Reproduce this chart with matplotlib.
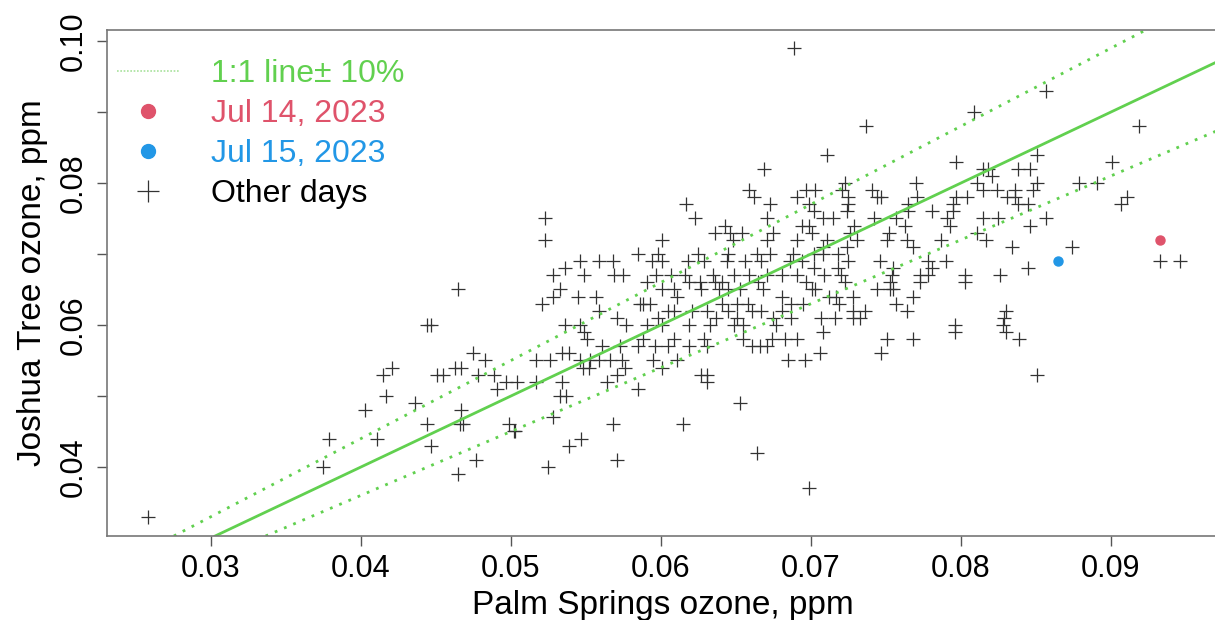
import matplotlib
matplotlib.use("Agg")
import matplotlib.pyplot as plt
from matplotlib.lines import Line2D

plt.rcParams['font.family'] = ['Liberation Sans', 'DejaVu Sans']

# ozone, ppm: Palm Springs (x) vs Joshua Tree (y), all other days
other_ps = [
    # low end
    0.0258, 0.0375, 0.0379, 0.0403, 0.0411, 0.0417, 0.0415, 0.0421,
    0.0523, 0.0523, 0.0465, 0.0444, 0.0447, 0.0546, 0.0559, 0.0536, 0.0528, 0.0549,
    0.0533, 0.0528, 0.0545, 0.0557, 0.0521, 0.0559, 0.0536, 0.0546,
    0.0549, 0.0551, 0.0561, 0.0475, 0.0483, 0.0451, 0.0455, 0.0463, 0.0467, 0.0478,
    0.0489, 0.0497, 0.0504, 0.0491, 0.0517, 0.0526, 0.0534, 0.0539, 0.0517, 0.0534,
    0.0533, 0.0537, 0.0546, 0.0553, 0.0559, 0.0566, 0.0548, 0.0552, 0.0564, 0.0436,
    0.0467, 0.0444, 0.0466, 0.0468, 0.0447, 0.0499, 0.0503, 0.0502, 0.0528, 0.0547,
    0.0539, 0.0477, 0.0465, 0.0525,
    # upper middle
    0.0669, 0.0711, 0.0659, 0.0662, 0.0691, 0.0697, 0.0703, 0.0699, 0.0702, 0.0617,
    0.0623, 0.0673, 0.0671, 0.0675, 0.0643, 0.0636, 0.0646, 0.0654, 0.0694, 0.0699,
    0.0701, 0.0708, 0.0708, 0.0701,
    # dense core
    0.0601, 0.0648, 0.0671, 0.0691,
    0.0585, 0.0598, 0.0625, 0.0645, 0.0664, 0.0673, 0.0688,
    0.0568, 0.0594, 0.0601, 0.0618, 0.0629, 0.0644, 0.0656, 0.0667, 0.0686, 0.0694,
    0.0569, 0.0575, 0.0597, 0.0607, 0.0616, 0.0635, 0.0649, 0.0659, 0.0671, 0.0681, 0.0691,
    0.0591, 0.0619, 0.0626, 0.0636, 0.0641, 0.0665, 0.0697,
    0.0601, 0.0609, 0.0627, 0.0639, 0.0645, 0.0653, 0.0668,
    0.0611, 0.0681,
    0.0586, 0.0588, 0.0593, 0.0641, 0.0651, 0.0658, 0.0687, 0.0695,
    0.0605, 0.0609, 0.0621, 0.0631, 0.0645, 0.0661, 0.0667, 0.0681,
    0.0571, 0.0598, 0.0637, 0.0651, 0.0675, 0.0687,
    0.0577, 0.0591, 0.0601, 0.0619, 0.0633, 0.0649, 0.0655, 0.0677,
    0.0588, 0.0609, 0.0629, 0.0655, 0.0674, 0.0683, 0.0691,
    0.0573, 0.0585, 0.0596, 0.0605, 0.0619, 0.0631, 0.0661, 0.0666, 0.0671,
    0.0574, 0.0595, 0.0611, 0.0685, 0.0696,
    # upper right
    0.0797, 0.0815, 0.0818, 0.0851, 0.0838, 0.0846, 0.0851, 0.0848, 0.0723, 0.0770,
    0.0741, 0.0744, 0.0747, 0.0721, 0.0725, 0.0725, 0.0724, 0.0715, 0.0771, 0.0765,
    0.0765, 0.0797, 0.0795, 0.0795, 0.0804, 0.0811, 0.0815, 0.0821, 0.0824, 0.0831,
    0.0838, 0.0845, 0.0836, 0.0836, 0.0781, 0.0791, 0.0793, 0.0815, 0.0825, 0.0811,
    0.0817, 0.0846, 0.0857, 0.0834, 0.0845, 0.0826, 0.0803, 0.0803, 0.0790, 0.0778,
    0.0781, 0.0773, 0.0778, 0.0773, 0.0764, 0.0768, 0.0755, 0.0757, 0.0753, 0.0753,
    0.0744, 0.0755, 0.0754, 0.0746, 0.0729, 0.0726, 0.0731, 0.0742, 0.0752, 0.0751,
    0.0757, 0.0763, 0.0764, 0.0768, 0.0787, 0.0711, 0.0708, 0.0702, 0.0718, 0.0724,
    0.0725, 0.0702, 0.0709, 0.0720, 0.0723, 0.0718, 0.0703, 0.0712, 0.0717, 0.0719,
    0.0728, 0.0736, 0.0728, 0.0707, 0.0716, 0.0728, 0.0733, 0.0796, 0.0830, 0.0829,
    0.0828,
    # lower middle
    0.0708, 0.0706, 0.0627, 0.0631, 0.0631, 0.0601, 0.0585, 0.0576, 0.0571, 0.0568,
    0.0615, 0.0571, 0.0653, 0.0664, 0.0699,
    0.0751, 0.0768, 0.0747, 0.0839, 0.0851, 0.0796, 0.0830,
    # high end
    0.0901, 0.0879, 0.0891, 0.0907, 0.0911, 0.0874, 0.0933, 0.0946,
    0.0689, 0.0737, 0.0809, 0.0857, 0.0919,
]
other_jt = [
    # low end
    0.033, 0.040, 0.044, 0.048, 0.044, 0.050, 0.053, 0.054,
    0.075, 0.072, 0.065, 0.060, 0.060, 0.069, 0.069, 0.068, 0.067, 0.067,
    0.065, 0.064, 0.064, 0.064, 0.063, 0.062, 0.060, 0.060,
    0.059, 0.058, 0.057, 0.056, 0.055, 0.053, 0.053, 0.054, 0.054, 0.053,
    0.053, 0.052, 0.052, 0.051, 0.055, 0.055, 0.056, 0.056, 0.052, 0.052,
    0.050, 0.050, 0.055, 0.055, 0.055, 0.055, 0.054, 0.054, 0.052, 0.049,
    0.048, 0.046, 0.046, 0.046, 0.043, 0.046, 0.045, 0.045, 0.047, 0.044,
    0.043, 0.041, 0.039, 0.040,
    # upper middle
    0.082, 0.084, 0.079, 0.078, 0.078, 0.079, 0.079, 0.077, 0.076, 0.077,
    0.075, 0.077, 0.075, 0.073, 0.074, 0.073, 0.073, 0.073, 0.074, 0.074,
    0.073, 0.075, 0.070, 0.065,
    # dense core
    0.072, 0.072, 0.072, 0.072,
    0.070, 0.070, 0.070, 0.070, 0.070, 0.070, 0.070,
    0.069, 0.069, 0.069, 0.069, 0.069, 0.069, 0.069, 0.069, 0.069, 0.069,
    0.067, 0.067, 0.067, 0.067, 0.067, 0.067, 0.067, 0.067, 0.067, 0.067, 0.067,
    0.066, 0.066, 0.066, 0.066, 0.066, 0.066, 0.066,
    0.065, 0.065, 0.065, 0.065, 0.065, 0.065, 0.065,
    0.064, 0.064,
    0.063, 0.063, 0.063, 0.063, 0.063, 0.063, 0.063, 0.063,
    0.062, 0.062, 0.062, 0.062, 0.062, 0.062, 0.062, 0.062,
    0.061, 0.061, 0.061, 0.061, 0.061, 0.061,
    0.060, 0.060, 0.060, 0.060, 0.060, 0.060, 0.060, 0.060,
    0.058, 0.058, 0.058, 0.058, 0.058, 0.058, 0.058,
    0.057, 0.057, 0.057, 0.057, 0.057, 0.057, 0.057, 0.057, 0.057,
    0.055, 0.055, 0.055, 0.055, 0.055,
    # upper right
    0.083, 0.082, 0.082, 0.084, 0.082, 0.082, 0.080, 0.079, 0.080, 0.080,
    0.079, 0.078, 0.078, 0.079, 0.078, 0.077, 0.076, 0.075, 0.078, 0.077,
    0.076, 0.078, 0.077, 0.076, 0.078, 0.080, 0.079, 0.081, 0.079, 0.078,
    0.077, 0.077, 0.079, 0.078, 0.076, 0.075, 0.074, 0.075, 0.075, 0.073,
    0.072, 0.074, 0.075, 0.071, 0.068, 0.067, 0.067, 0.066, 0.069, 0.069,
    0.068, 0.067, 0.067, 0.066, 0.062, 0.064, 0.065, 0.063, 0.066, 0.065,
    0.065, 0.068, 0.067, 0.069, 0.074, 0.073, 0.072, 0.075, 0.073, 0.072,
    0.075, 0.074, 0.072, 0.071, 0.072, 0.072, 0.071, 0.070, 0.070, 0.071,
    0.069, 0.068, 0.067, 0.067, 0.066, 0.068, 0.065, 0.064, 0.064, 0.063,
    0.064, 0.062, 0.062, 0.061, 0.061, 0.061, 0.061, 0.060, 0.062, 0.061,
    0.060,
    # lower middle
    0.059, 0.056, 0.053, 0.053, 0.052, 0.054, 0.051, 0.054, 0.053, 0.046,
    0.046, 0.041, 0.049, 0.042, 0.037,
    0.058, 0.058, 0.056, 0.058, 0.053, 0.059, 0.059,
    # high end
    0.083, 0.080, 0.080, 0.077, 0.078, 0.071, 0.069, 0.069,
    0.099, 0.088, 0.090, 0.093, 0.088,
]

event_labels = ["Jul 14, 2023", "Jul 15, 2023"]
event_ps = [0.0933, 0.0865]
event_jt = [0.072, 0.069]
event_colors = ["#DF536B", "#2297E6"]

line_label = "1:1 line\u00b1 10%"
green = "#61D04F"

x_ticks = [0.03, 0.04, 0.05, 0.06, 0.07, 0.08, 0.09]
x_tick_labels = ["0.03", "0.04", "0.05", "0.06", "0.07", "0.08", "0.09"]
y_ticks = [0.04, 0.05, 0.06, 0.07, 0.08, 0.09, 0.10]
y_tick_labels = ["0.04", "", "0.06", "", "0.08", "", "0.10"]

fig = plt.figure(figsize=(12.15, 6.2), dpi=100)
ax = fig.add_axes([107 / 1215, 1 - 536 / 620, 1112 / 1215, 506 / 620])

ax.plot(other_ps, other_jt, linestyle="none", marker="+", markersize=10,
        markeredgewidth=0.9, color="#333333")
for ps, jt, c in zip(event_ps, event_jt, event_colors):
    ax.plot(ps, jt, linestyle="none", marker="o", markersize=6.5, color=c)

ax.axline((0, 0), slope=1.0, color=green, lw=2)
ax.axline((0, 0), slope=1.1, color=green, lw=2, linestyle=(0, (1, 2.6)))
ax.axline((0, 0), slope=0.9, color=green, lw=2, linestyle=(0, (1, 2.6)))

ax.set_xlim(0.02307, 0.0972)
ax.set_ylim(0.03028, 0.10155)
ax.set_xticks(x_ticks)
ax.set_xticklabels(x_tick_labels)
ax.set_yticks(y_ticks)
ax.set_yticklabels(y_tick_labels, rotation=90, va="center")
ax.tick_params(axis="both", labelsize=22, length=7, width=1, color="#555555", pad=6)
for s in ax.spines.values():
    s.set_color("#777777")
    s.set_linewidth(1.2)

ax.set_xlabel("Palm Springs ozone, ppm", fontsize=24, labelpad=4)
ax.set_ylabel("Joshua Tree ozone, ppm", fontsize=24, labelpad=8)

handles = [
    Line2D([], [], color="#A8E29C", lw=1.2, linestyle=(0, (1, 1))),
    Line2D([], [], linestyle="none", marker="o", markersize=10, color=event_colors[0]),
    Line2D([], [], linestyle="none", marker="o", markersize=10, color=event_colors[1]),
    Line2D([], [], linestyle="none", marker="+", markersize=16, markeredgewidth=0.9, color="#333333"),
]
labels = [line_label] + event_labels + ["Other days"]
leg = ax.legend(handles, labels, loc="upper left", bbox_to_anchor=(0.003, 0.955),
                frameon=False, fontsize=23, handlelength=1.95, handletextpad=1.0,
                labelspacing=0.31, borderpad=0.2, borderaxespad=0)
for t, c in zip(leg.get_texts(), [green, event_colors[0], event_colors[1], "black"]):
    t.set_color(c)

fig.savefig("out.png", dpi=100)
